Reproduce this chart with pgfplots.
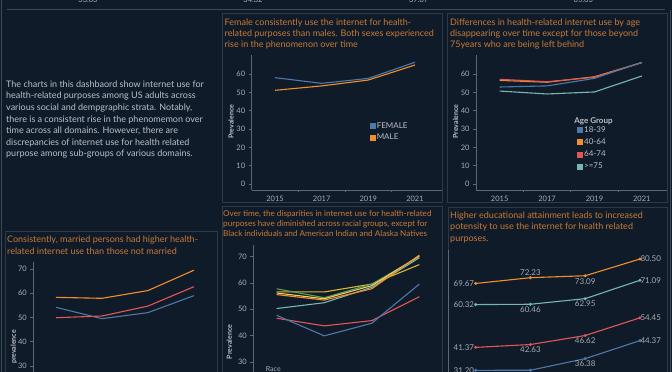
\documentclass[border=0pt]{standalone}
\usepackage{pgfplots}
\pgfplotsset{compat=1.18}
\usepackage{fontspec}
\setmainfont{Lato}
\definecolor{bg}{RGB}{16,27,42}
\definecolor{frame}{RGB}{44,57,71}
\definecolor{sepl}{RGB}{62,74,86}
\definecolor{ttl}{RGB}{200,122,52}
\definecolor{txt}{RGB}{186,192,199}
\definecolor{tck}{RGB}{165,173,181}
\definecolor{axl}{RGB}{92,103,115}
\definecolor{tbblue}{HTML}{4E79A7}
\definecolor{tborange}{HTML}{F28E2B}
\definecolor{tbred}{HTML}{E15759}
\definecolor{tbteal}{HTML}{76B7B2}
\definecolor{tbgreen}{HTML}{59A14F}
\definecolor{tbyellow}{HTML}{D9B43A}
\definecolor{tbltyel}{HTML}{F1CE63}
\pgfplotsset{
 tabl/.style={
  scale only axis,
  axis x line=bottom, axis y line=left,
  axis line style={draw=axl,-,line width=0.7pt},
  tick style={draw=axl,line width=0.6pt},
  tick align=outside,
  major tick length=3pt,
  minor tick length=2pt,
  ticklabel style={font=\fontsize{7.5}{9}\selectfont, text=tck},
  /pgf/number format/assume math mode=true,
  xtick={2015,2017,2019,2021},
  xticklabels={2015,2017,2019,2021},
  minor xtick={2016,2018,2020},
  major x tick style={draw=none},
  every axis plot/.append style={line width=1.1pt},
 },
 sqleg/.style={
  legend cell align=left,
  legend image code/.code={\fill[##1] (0pt,-2.4pt) rectangle (4.8pt,2.4pt);},
 },
}
\begin{document}
\begin{tikzpicture}[x=1pt,y=1pt]
\fill[bg] (0,0) rectangle (672,372);
\path[use as bounding box] (0,0) rectangle (672,372);
\clip (0,0) rectangle (672,372);
% outer frame and separator
\draw[sepl,line width=1.2pt] (1.5,0) -- (1.5,372);
\draw[sepl,line width=1.2pt] (670.5,0) -- (670.5,362);
\draw[sepl,line width=1.6pt] (7,362.5) -- (665,362.5);
% top numbers
\foreach \xx/\tt in {88/33.03,253/34.32,418.7/37.87,583.3/65.63}
  \node[anchor=base,inner sep=0pt,font=\fontsize{7.5}{9}\selectfont,text=tck] at (\xx,369) {\tt};
% panel frames
\draw[frame,line width=0.8pt] (222,359) rectangle (442,170);
\draw[frame,line width=0.8pt] (447.5,359) rectangle (667,170);
\draw[frame,line width=0.8pt] (5,141) rectangle (217,-5);
\draw[frame,line width=0.8pt] (222,165.3) rectangle (442,-5);
\draw[frame,line width=0.8pt] (448,164.7) rectangle (667,-5);
% intro text
\node[anchor=north west,inner sep=0pt,align=left,font=\fontsize{9}{11.6}\selectfont,text=txt] at (6,291.5)
{The charts in this dashbaord show internet use for\\
health-related purposes among US adults across\\
various social and dempgraphic strata. Notably,\\
there is a consistent rise in the phenomemon over\\
time across all domains. However, there are\\
discrepancies of internet use for health related\\
purpose among sub-groups of various domains.};
% titles
\node[anchor=north west,inner sep=0pt,align=left,font=\fontsize{9}{11}\selectfont,text=ttl] at (224.5,353.8)
{Female consistently use the internet for health-\\
related purposes than males. Both sexes experienced\\
rise in the phenomenon over time};
\node[anchor=north west,inner sep=0pt,align=left,font=\fontsize{9}{11}\selectfont,text=ttl] at (450,353.8)
{Differences in health-related internet use by age\\
disappearing over time except for those beyond\\
75years who are being left behind};
\node[anchor=north west,inner sep=0pt,align=left,font=\fontsize{9}{11.7}\selectfont,text=ttl] at (7,136.5)
{Consistently, married persons had higher health-\\
related internet use than those not married};
\node[anchor=north west,inner sep=0pt,align=left,font=\fontsize{8.15}{10}\selectfont,text=ttl] at (223,161.5)
{Over time, the disparities in internet use for health-related\\
purposes have diminished across racial groups, except for\\
Black individuals and American Indian and Alaska Natives};
\node[anchor=north west,inner sep=0pt,align=left,font=\fontsize{9}{11.7}\selectfont,text=ttl] at (450,160.8)
{Higher educational attainment leads to increased\\
potensity to use the internet for health related\\
purposes.};
\node[anchor=west,inner sep=0pt,font=\fontsize{7}{8}\selectfont,text=tck] at (265.7,3) {Race};

% ---------- Panel 1: Sex
\begin{axis}[tabl, sqleg, at={(251.7pt,182pt)}, anchor=south west,
  width=190.3pt, height=135pt, xmin=2014, xmax=2022.16, ymin=-3.27, ymax=70.36,
  ytick={0,10,...,60},
  ylabel={Prevalence},
  every axis y label/.style={at={(axis description cs:-0.109,0.504)},rotate=90,anchor=center,font=\fontsize{7}{8}\selectfont\bfseries,text=txt},
  legend style={at={(axis description cs:0.62,0.51)},anchor=north west,draw=none,fill=none,
    font=\fontsize{8}{9}\selectfont,text=txt,row sep=2.4pt,inner sep=0pt,nodes={inner sep=1pt},
    every odd column/.style={column sep=2.5pt}},
  ]
\addplot[color=tbblue] coordinates {(2015,58.0)(2017,54.9)(2019,57.6)(2021,66.4)};
\addlegendentry{FEMALE}
\addplot[color=tborange] coordinates {(2015,51.1)(2017,53.5)(2019,56.7)(2021,64.9)};
\addlegendentry{MALE}
\end{axis}

% ---------- Panel 2: Age
\begin{axis}[tabl, sqleg, at={(476pt,182pt)}, anchor=south west,
  width=190.7pt, height=135pt, xmin=2014, xmax=2022.05, ymin=-3.27, ymax=70.36,
  ytick={0,10,...,60},
  ylabel={Prevalence},
  every axis y label/.style={at={(axis description cs:-0.107,0.507)},rotate=90,anchor=center,font=\fontsize{7}{8}\selectfont\bfseries,text=txt},
  legend style={at={(axis description cs:0.53,0.48)},anchor=north west,draw=none,fill=none,
    font=\fontsize{8}{9}\selectfont,text=txt,row sep=3pt,inner sep=0pt,nodes={inner sep=1pt},
    every odd column/.style={column sep=2pt}},
  ]
\addlegendimage{color=tbblue}\addlegendentry{18-39}
\addlegendimage{color=tborange}\addlegendentry{40-64}
\addlegendimage{color=tbred}\addlegendentry{64-74}
\addlegendimage{color=tbteal}\addlegendentry{>=75}
\addplot[color=tbteal,forget plot] coordinates {(2015,50.7)(2017,49.1)(2019,50.2)(2021,58.9)};
\addplot[color=tborange,forget plot] coordinates {(2015,56.5)(2017,55.5)(2019,58.5)(2021,66.2)};
\addplot[color=tbred,forget plot] coordinates {(2015,57.1)(2017,55.8)(2019,58.2)(2021,66.2)};
\addplot[color=tbblue,forget plot] coordinates {(2015,52.9)(2017,53.5)(2019,57.6)(2021,66.4)};
\node[anchor=west,inner sep=0pt,font=\fontsize{8}{9}\selectfont\bfseries,text=txt] at (axis description cs:0.515,0.51) {Age Group};
\end{axis}

% ---------- Panel 3: Marital
\begin{axis}[tabl, at={(33.3pt,-6.1pt)}, anchor=south west,
  width=182.7pt, height=116.4pt, xmin=2014.013, xmax=2021.96, ymin=25, ymax=73,
  ytick={30,40,...,70},
  ylabel={prevalence},
  every axis y label/.style={at={(axis description cs:-0.106,0.267)},rotate=90,anchor=center,font=\fontsize{7}{8}\selectfont\bfseries,text=txt},
  ]
\addplot[color=tborange] coordinates {(2015,58.3)(2017,57.9)(2019,61.1)(2021,69.5)};
\addplot[color=tbblue] coordinates {(2015,54.2)(2017,49.5)(2019,52.0)(2021,59.0)};
\addplot[color=tbred] coordinates {(2015,49.9)(2017,50.6)(2019,54.7)(2021,62.7)};
\end{axis}

% ---------- Panel 4: Race
\begin{axis}[tabl, at={(253.3pt,-3pt)}, anchor=south west,
  width=187.7pt, height=130pt, xmin=2014.016, xmax=2021.91, ymin=25.02, ymax=74.45,
  ytick={30,40,...,70},
  ylabel={Prevalence},
  every axis y label/.style={at={(axis description cs:-0.128,0.254)},rotate=90,anchor=center,font=\fontsize{7}{8}\selectfont\bfseries,text=txt},
  ]
\addplot[color=tbred] coordinates {(2015,46.6)(2017,43.7)(2019,45.7)(2021,54.8)};
\addplot[color=tbblue] coordinates {(2015,47.7)(2017,39.9)(2019,44.7)(2021,59.6)};
\addplot[color=tbteal] coordinates {(2015,50.3)(2017,52.5)(2019,58.4)(2021,69.6)};
\addplot[color=tbyellow] coordinates {(2015,56.6)(2017,56.6)(2019,59.6)(2021,67.0)};
\addplot[color=tbgreen] coordinates {(2015,57.8)(2017,54.4)(2019,59.6)(2021,70.0)};
\addplot[color=tbltyel] coordinates {(2015,56.2)(2017,54.0)(2019,59.0)(2021,70.3)};
\addplot[color=tborange] coordinates {(2015,55.6)(2017,53.5)(2019,57.8)(2021,70.6)};
\end{axis}

% ---------- Panel 5: Education
\begin{axis}[scale only axis, at={(448pt,-12pt)}, anchor=south west,
  width=218pt, height=134pt, xmin=2013.99, xmax=2021.95, ymin=25.15, ymax=84.49,
  axis x line=none, axis y line=left, axis line style={draw=axl,-,line width=0.8pt},
  xtick=\empty, ytick=\empty, clip=false,
  every axis plot/.append style={line width=1.1pt},
  nodes near coords, point meta=explicit symbolic,
  nodes near coords style={font=\fontsize{8}{9}\selectfont,text=tck,inner sep=1pt},
  ]
\addplot[color=tborange,mark=*,mark size=0.9pt,nodes near coords={}] coordinates {(2015,69.67)(2017,72.23)(2019,73.09)(2021,80.50)};
\addplot[color=tbteal,mark=*,mark size=0.9pt,nodes near coords={}] coordinates {(2015,60.32)(2017,60.46)(2019,62.95)(2021,71.09)};
\addplot[color=tbred,mark=*,mark size=0.9pt,nodes near coords={}] coordinates {(2015,41.37)(2017,42.63)(2019,46.62)(2021,54.45)};
\addplot[color=tbblue,mark=*,mark size=0.9pt,nodes near coords={}] coordinates {(2015,31.20)(2017,31.25)(2019,36.38)(2021,44.37)};
% value labels
\addplot[draw=none,mark=none,nodes near coords style={anchor=east}] coordinates {(2015,69.67)[69.67] (2015,60.32)[60.32] (2015,41.37)[41.37] (2015,31.20)[31.20]};
\addplot[draw=none,mark=none,nodes near coords style={anchor=west,xshift=-1pt}] coordinates {(2021,80.50)[80.50] (2021,71.09)[71.09] (2021,54.45)[54.45] (2021,44.37)[44.37]};
\addplot[draw=none,mark=none,nodes near coords style={anchor=south,yshift=0.5pt}] coordinates {(2017,72.23)[72.23]};
\addplot[draw=none,mark=none,nodes near coords style={anchor=north,yshift=-1pt}] coordinates {(2019,73.09)[73.09] (2017,60.46)[60.46] (2019,62.95)[62.95] (2017,42.63)[42.63] (2019,46.62)[46.62] (2017,31.25)[31.25] (2019,36.38)[36.38]};
\end{axis}
\end{tikzpicture}
\end{document}
